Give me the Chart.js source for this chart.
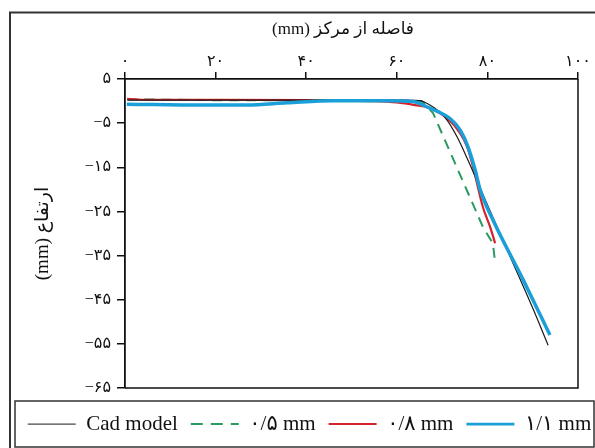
<!DOCTYPE html>
<html><head><meta charset="utf-8">
<script src="https://cdn.jsdelivr.net/npm/chart.js@4"></script>
<style>html,body{margin:0;padding:0;background:#fff}canvas{display:block}</style>
</head><body>
<canvas id="c" width="595" height="448" style="width:595px;height:448px"></canvas>
<script>
// ---- data ----
const xTickValues = [0, 20, 40, 60, 80, 100];
const xTickLabels = ['۰', '۲۰', '۴۰', '۶۰', '۸۰', '۱۰۰'];
const yTickValues = [5, -5, -15, -25, -35, -45, -55, -65];
const yTickLabels = ['۵', '−۵', '−۱۵', '−۲۵', '−۳۵', '−۴۵', '−۵۵', '−۶۵'];
const seriesNames = ['Cad model', '۰/۵ mm', '۰/۸ mm', '۱/۱ mm'];
const xTitle = '(mm) فاصله از مرکز\u2003';
const yTitle = '(mm) ارتفاع';

const cadX = [0.5, 10, 20, 30, 40, 50, 60, 65, 67.3, 69.5, 71.1, 73.3, 75.5, 80, 85, 90, 93.4];
const cadY = [0.2, 0.2, 0.2, 0.2, 0.2, 0.2, 0.2, 0.1, -0.9, -2.5, -4.3, -8.1, -12.9, -23.5, -35.2, -46.9, -55.3];

const g05X = [0.5, 10, 20, 30, 40, 50, 60, 65.5, 68.0, 73.5, 79.0, 81.2, 81.7];
const g05Y = [0.4, 0.3, 0.2, 0.2, 0.2, 0.2, 0.2, 0.0, -2.7, -15.6, -28.5, -32.2, -36.5];

const r08X = [0.5, 5, 20, 40, 55, 60, 64, 67.3, 71.1, 74.0, 75.5, 76.6, 77.7, 79.0, 80.6, 81.7];
const r08Y = [0.5, 0.3, 0.3, 0.2, 0.0, -0.3, -0.9, -1.6, -3.9, -7.3, -10.3, -14.0, -18.6, -24.0, -28.5, -32.2];

const b11X = [0.4, 17.2, 26.9, 35.8, 45.9, 57.8, 63.6, 67.3, 69.1, 71.7, 74.0, 75.7, 77.3, 78.4, 81.2, 87.9, 93.8];
const b11Y = [-0.7, -0.9, -0.9, -0.4, 0.1, 0.1, -0.1, -1.6, -2.4, -3.9, -6.6, -10.3, -15.6, -20.1, -26.9, -40.5, -53.0];

const toPts = (xs, ys) => xs.map((x, i) => ({x: x, y: ys[i]}));

const serif = "'Liberation Serif', 'DejaVu Sans', serif";
const legendLineWidths = [1, 2, 2, 2.6];

const framePlugin = {
  id: 'frame',
  afterLayout(chart) {
    const lg = chart.legend;
    if (lg) { lg.left += 12; lg.right += 12; }
  },
  beforeDraw(chart) {
    const ctx = chart.ctx;
    ctx.save();
    ctx.fillStyle = '#fff';
    ctx.fillRect(0, 0, chart.width, chart.height);
    ctx.restore();
  },
  afterDraw(chart) {
    const ctx = chart.ctx;
    const a = chart.chartArea;
    ctx.save();
    ctx.strokeStyle = '#111';
    ctx.lineWidth = 1.5;
    ctx.beginPath();
    ctx.moveTo(a.right, a.top);
    ctx.lineTo(a.right, a.bottom);
    ctx.lineTo(a.left, a.bottom);
    ctx.stroke();
    ctx.strokeStyle = '#333';
    ctx.lineWidth = 2;
    ctx.strokeRect(10, 12.5, 600, 450);
    ctx.lineWidth = 1.5;
    ctx.strokeRect(15, 401, 579, 46);
    ctx.restore();
  }
};

new Chart(document.getElementById('c'), {
  type: 'line',
  data: {
    datasets: [
      {label: seriesNames[0], data: toPts(cadX, cadY), borderColor: '#1a1a1a', backgroundColor: '#1a1a1a',
       borderWidth: 1.2, pointRadius: 0, cubicInterpolationMode: 'monotone', order: 1},
      {label: seriesNames[1], data: toPts(g05X, g05Y), borderColor: '#2a9a60', backgroundColor: '#2a9a60',
       borderWidth: 2, borderDash: [10, 7], pointRadius: 0, tension: 0, order: 3},
      {label: seriesNames[2], data: toPts(r08X, r08Y), borderColor: '#d6222b', backgroundColor: '#d6222b',
       borderWidth: 2.2, pointRadius: 0, cubicInterpolationMode: 'monotone', order: 2},
      {label: seriesNames[3], data: toPts(b11X, b11Y), borderColor: '#1a9fd8', backgroundColor: '#1a9fd8',
       borderWidth: 3.5, pointRadius: 0, cubicInterpolationMode: 'monotone', order: 0}
    ]
  },
  options: {
    responsive: false,
    animation: false,
    devicePixelRatio: 1,
    layout: {padding: {left: 0, top: 0, right: 0, bottom: 3.4}},
    plugins: {
      tooltip: {enabled: false},
      legend: {
        position: 'bottom',
        title: {display: true, text: '', font: {size: 8, lineHeight: 1.2}, padding: {top: 0, bottom: 3}},
        labels: {
          usePointStyle: true, pointStyle: 'line', pointStyleWidth: 48,
          padding: 13, color: '#111', font: {family: serif, size: 21},
          sort: (a, b) => a.datasetIndex - b.datasetIndex,
          generateLabels: (chart) => {
            const items = Chart.defaults.plugins.legend.labels.generateLabels(chart);
            items.forEach((it) => {
              const ds = chart.data.datasets[it.datasetIndex];
              it.lineDash = ds.borderDash ? [12, 8] : [];
              it.lineWidth = legendLineWidths[it.datasetIndex];
              it.strokeStyle = ds.borderColor;
              it.fillStyle = ds.borderColor;
              it.pointStyle = 'line';
            });
            return items;
          }
        }
      }
    },
    scales: {
      x: {
        type: 'linear', position: 'top', min: 0, max: 100,
        afterFit: (s) => { s.height = 79; },
        afterBuildTicks: (s) => { s.ticks = xTickValues.map(v => ({value: v})); },
        ticks: {
          padding: 1, color: '#111', font: {family: serif, size: 16}, maxRotation: 0,
          callback: (v) => xTickLabels[xTickValues.indexOf(v)]
        },
        grid: {drawOnChartArea: false, drawTicks: true, tickLength: 7, color: '#111', lineWidth: 1.5},
        border: {display: true, color: '#111', width: 1.8},
        title: {display: true, text: xTitle, color: '#111', font: {family: serif, size: 17}, padding: {top: 19, bottom: 0}}
      },
      y: {
        type: 'linear', position: 'left', min: -65, max: 5,
        afterFit: (s) => { s.width = 125; },
        afterBuildTicks: (s) => { s.ticks = yTickValues.slice().reverse().map(v => ({value: v})); },
        ticks: {
          padding: 6, color: '#111', font: {family: serif, size: 16},
          callback: (v) => yTickLabels[yTickValues.indexOf(v)]
        },
        grid: {drawOnChartArea: false, drawTicks: true, tickLength: 8, color: '#111', lineWidth: 1.5},
        border: {display: true, color: '#111', width: 1.8},
        title: {display: true, text: yTitle, color: '#111', font: {family: serif, size: 19}, padding: {top: 32, bottom: 0}}
      },
      yRight: {
        type: 'linear', position: 'right', display: true,
        afterFit: (s) => { s.width = 17; },
        ticks: {display: false},
        grid: {display: false, drawTicks: false},
        border: {display: false},
        title: {display: false}
      }
    }
  },
  plugins: [framePlugin]
});
</script>
</body></html>
